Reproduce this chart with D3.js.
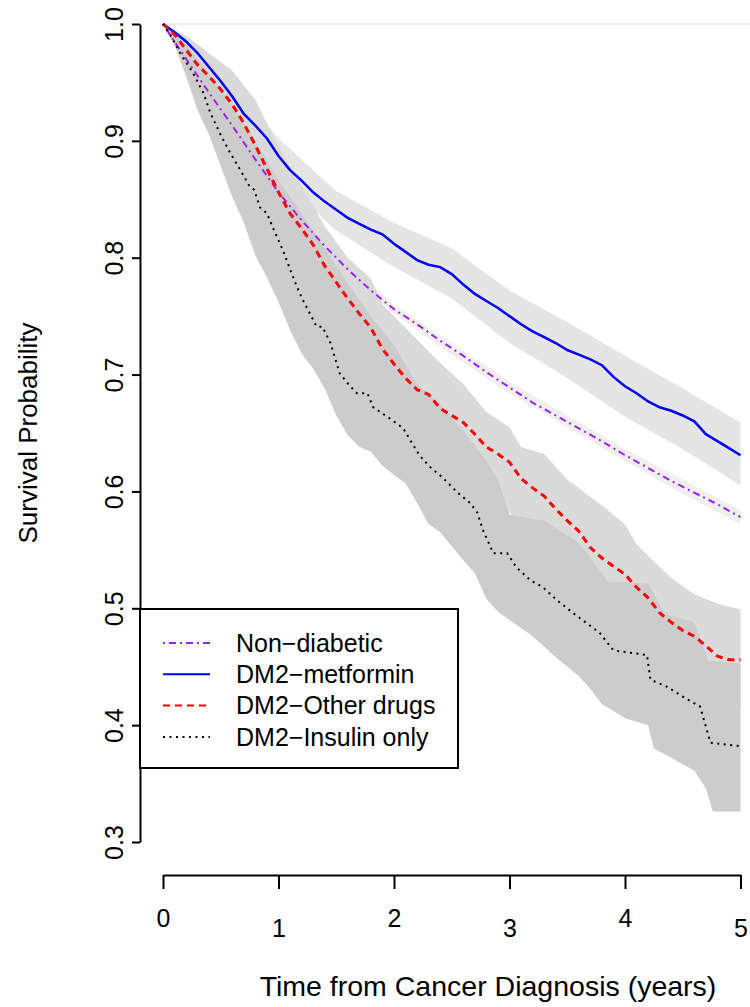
<!DOCTYPE html>
<html>
<head>
<meta charset="utf-8">
<script src="https://cdn.jsdelivr.net/npm/d3@7"></script>
<style>
  body { margin: 0; background: #fff; }
  svg { display: block; font-family: "Liberation Sans", Arial, Helvetica, sans-serif; }
</style>
</head>
<body>
<div id="chart"></div>
<script>
// ---- values ----
const groups = ["Non\u2212diabetic", "DM2\u2212metformin", "DM2\u2212Other drugs", "DM2\u2212Insulin only"];
const xTicks = [0, 1, 2, 3, 4, 5];
const yTicks = [0.3, 0.4, 0.5, 0.6, 0.7, 0.8, 0.9, 1.0];

// time grids (years)
const grid10 = [0, 0.1, 0.2, 0.3, 0.4, 0.5, 0.6, 0.7, 0.8, 0.9, 1, 1.1, 1.2, 1.3, 1.4, 1.5, 1.6, 1.7, 1.8, 1.9,
  2, 2.1, 2.2, 2.3, 2.4, 2.5, 2.6, 2.7, 2.8, 2.9, 3, 3.1, 3.2, 3.3, 3.4, 3.5, 3.6, 3.7, 3.8, 3.9,
  4, 4.1, 4.2, 4.3, 4.4, 4.5, 4.6, 4.7, 4.8, 4.9, 5];
const grid20 = [0, 0.2, 0.4, 0.6, 0.8, 1, 1.2, 1.4, 1.6, 1.8, 2, 2.2, 2.4, 2.6, 2.8, 3, 3.2, 3.4, 3.6, 3.8,
  4, 4.2, 4.4, 4.6, 4.8, 5];
const grid50 = [0, 0.5, 1, 1.5, 2, 2.5, 3, 3.5, 4, 4.5, 5];

// Non-diabetic
const nonDiabSurv = [1, 0.970, 0.941, 0.913, 0.884, 0.856, 0.832, 0.810, 0.790, 0.772, 0.756, 0.743, 0.729,
  0.716, 0.702, 0.689, 0.676, 0.665, 0.654, 0.643, 0.631, 0.620, 0.609, 0.599, 0.589, 0.578];
const nonDiabLower = [1, 0.924, 0.852, 0.796, 0.752, 0.717, 0.684, 0.655, 0.626, 0.598, 0.572];
const nonDiabUpper = [1, 0.930, 0.860, 0.804, 0.760, 0.727, 0.694, 0.665, 0.636, 0.610, 0.584];

// DM2 - metformin
const metforminSurv = [1, 0.993, 0.985, 0.975, 0.963, 0.951, 0.938, 0.923, 0.913, 0.902, 0.887, 0.875, 0.866,
  0.856, 0.848, 0.841, 0.834, 0.829, 0.824, 0.820, 0.812, 0.805, 0.798, 0.794, 0.792, 0.786, 0.777, 0.769,
  0.763, 0.757, 0.750, 0.743, 0.737, 0.732, 0.727, 0.721, 0.717, 0.713, 0.708, 0.698, 0.690, 0.684, 0.677,
  0.672, 0.669, 0.665, 0.660, 0.649, 0.643, 0.637, 0.631];
const metforminLower = [1, 0.938, 0.870, 0.823, 0.792, 0.765, 0.727, 0.697, 0.664, 0.636, 0.605];
const metforminUpper = [1, 0.962, 0.902, 0.857, 0.830, 0.808, 0.772, 0.745, 0.716, 0.688, 0.659];

// DM2 - other drugs
const otherSurv = [1, 0.991, 0.978, 0.965, 0.955, 0.944, 0.931, 0.915, 0.896, 0.876, 0.856, 0.838, 0.825,
  0.811, 0.793, 0.779, 0.765, 0.752, 0.740, 0.722, 0.709, 0.697, 0.687, 0.683, 0.671, 0.665, 0.659, 0.649,
  0.638, 0.632, 0.625, 0.611, 0.603, 0.596, 0.585, 0.575, 0.566, 0.552, 0.543, 0.536, 0.529, 0.518, 0.509,
  0.496, 0.488, 0.481, 0.476, 0.468, 0.459, 0.456, 0.456];
const otherBandTime = [0, 0.2, 0.4, 0.6, 0.8, 1.0, 1.2, 1.4, 1.6, 1.8, 1.9, 2.0, 2.2, 2.4, 2.6, 2.8, 3.0, 3.1,
  3.3, 3.5, 3.6, 3.8, 4.0, 4.1, 4.2, 4.4, 4.6, 4.8, 5.0];
const otherUpper = [1, 0.99, 0.975, 0.96, 0.935, 0.895, 0.862, 0.827, 0.800, 0.782, 0.760, 0.750, 0.730, 0.710,
  0.692, 0.668, 0.655, 0.638, 0.632, 0.610, 0.603, 0.588, 0.572, 0.555, 0.545, 0.526, 0.512, 0.504, 0.499];
const otherLower = [1, 0.962, 0.935, 0.905, 0.862, 0.815, 0.788, 0.762, 0.730, 0.700, 0.685, 0.665, 0.648, 0.635,
  0.620, 0.598, 0.582, 0.572, 0.555, 0.540, 0.525, 0.503, 0.488, 0.478, 0.468, 0.448, 0.437, 0.420, 0.414];

// DM2 - insulin only
const insulinTime = [0, 0.08, 0.15, 0.26, 0.35, 0.41, 0.49, 0.58, 0.67, 0.75, 0.79, 0.84, 0.9, 0.95, 1.04, 1.1,
  1.16, 1.21, 1.33, 1.38, 1.45, 1.53, 1.62, 1.68, 1.77, 1.82, 1.97, 2.08, 2.14, 2.22, 2.31, 2.42, 2.55, 2.66,
  2.72, 2.77, 2.86, 2.98, 3.06, 3.18, 3.29, 3.41, 3.55, 3.78, 3.9, 4.19, 4.22, 4.36, 4.54, 4.65, 4.74, 5.0];
const insulinSurv = [1, 0.988, 0.975, 0.958, 0.941, 0.924, 0.907, 0.890, 0.875, 0.861, 0.858, 0.843, 0.838,
  0.826, 0.806, 0.790, 0.775, 0.764, 0.741, 0.741, 0.727, 0.701, 0.690, 0.684, 0.684, 0.672, 0.662, 0.654,
  0.644, 0.631, 0.621, 0.612, 0.599, 0.590, 0.582, 0.567, 0.547, 0.547, 0.535, 0.524, 0.518, 0.507, 0.496,
  0.479, 0.464, 0.460, 0.439, 0.433, 0.422, 0.416, 0.385, 0.382];
const insulinLowerTime = [0, 0.1, 0.2, 0.3, 0.4, 0.5, 0.6, 0.7, 0.8, 0.9, 1.0, 1.1, 1.2, 1.3, 1.4, 1.5, 1.6, 1.7,
  1.8, 1.9, 2.0, 2.1, 2.2, 2.3, 2.4, 2.5, 2.6, 2.7, 2.8, 2.9, 3.0, 3.2, 3.4, 3.6, 3.7, 3.8, 4.0, 4.2, 4.25, 4.4,
  4.6, 4.7, 4.76, 5.0];
const insulinLower = [1, 0.982, 0.955, 0.926, 0.905, 0.878, 0.852, 0.830, 0.802, 0.783, 0.762, 0.738, 0.718, 0.705,
  0.688, 0.665, 0.648, 0.638, 0.634, 0.622, 0.614, 0.607, 0.590, 0.572, 0.565, 0.553, 0.541, 0.530, 0.508, 0.497,
  0.490, 0.476, 0.458, 0.442, 0.431, 0.418, 0.406, 0.400, 0.380, 0.372, 0.361, 0.346, 0.326, 0.326];
const insulinUpperTime = [0, 0.2, 0.4, 0.6, 0.8, 1.0, 1.2, 1.4, 1.6, 1.8, 2.0, 2.2, 2.4, 2.6, 2.8, 2.9, 3.0, 3.3,
  3.6, 3.8, 3.85, 4.2, 4.35, 4.6, 4.72, 5.0];
const insulinUpper = [1, 0.982, 0.958, 0.930, 0.900, 0.866, 0.838, 0.808, 0.778, 0.750, 0.725, 0.692, 0.674, 0.652,
  0.626, 0.610, 0.580, 0.575, 0.556, 0.530, 0.523, 0.521, 0.495, 0.488, 0.455, 0.453];

const zip = (ts, vs) => ts.map((t, i) => ({ t: t, v: vs[i] }));

const series = [
  { name: groups[0], line: zip(grid20, nonDiabSurv), upper: zip(grid50, nonDiabUpper), lower: zip(grid50, nonDiabLower),
    color: "#A020F0", dash: "2,4,7,4", width: 2, band: "#efefef" },
  { name: groups[1], line: zip(grid10, metforminSurv), upper: zip(grid50, metforminUpper), lower: zip(grid50, metforminLower),
    color: "#0000FF", dash: null, width: 2.5, band: "#e5e5e5" },
  { name: groups[2], line: zip(grid10, otherSurv), upper: zip(otherBandTime, otherUpper), lower: zip(otherBandTime, otherLower),
    color: "#FF0000", dash: "7,5", width: 3, band: "#dadada" },
  { name: groups[3], line: zip(insulinTime, insulinSurv), upper: zip(insulinUpperTime, insulinUpper), lower: zip(insulinLowerTime, insulinLower),
    color: "#000000", dash: "2,4.5", width: 2, band: "#cccccc" }
];

// ---- layout ----
const W = 750, H = 1007;
const svg = d3.select("#chart").append("svg")
  .attr("width", W)
  .attr("height", H);

svg.append("rect").attr("width", W).attr("height", H).attr("fill", "#fff");

const x = d3.scaleLinear().domain([0, 5]).range([163, 740.5]);
const y = d3.scaleLinear().domain([0.3, 1.0]).range([842, 24]);
const axisX = 140, axisY = 875;

// light reference line at 1.0
svg.append("line")
  .attr("x1", x(0)).attr("x2", W)
  .attr("y1", y(1)).attr("y2", y(1))
  .attr("stroke", "#dcdcdc")
  .attr("stroke-width", 1);

// confidence bands (opaque, drawn in legend order)
const edge = d3.line().x(d => x(d.t)).y(d => y(d.v));
svg.append("g").selectAll("path")
  .data(series)
  .join("path")
  .attr("d", d => edge(d.upper.concat(d.lower.slice().reverse())) + "Z")
  .attr("fill", d => d.band)
  .attr("stroke", "none");

// survival curves
svg.append("g").selectAll("path")
  .data(series)
  .join("path")
  .attr("d", d => edge(d.line))
  .attr("fill", "none")
  .attr("stroke", d => d.color)
  .attr("stroke-width", d => d.width)
  .attr("stroke-dasharray", d => d.dash);

// y axis (R style, rotated labels)
const gy = svg.append("g")
  .attr("transform", `translate(${axisX},0)`)
  .call(d3.axisLeft(y).tickValues(yTicks).tickSize(8).tickSizeOuter(0).tickFormat(d3.format(".1f")));
gy.select(".domain").attr("stroke-width", 2);
gy.selectAll(".tick line").attr("stroke-width", 2);
gy.selectAll(".tick text")
  .attr("x", null).attr("dy", null)
  .attr("transform", "translate(-17,0) rotate(-90)")
  .attr("text-anchor", "middle")
  .attr("font-size", 25)
  .attr("font-family", "Liberation Sans, Arial, sans-serif")
  .attr("fill", "#000");

// x axis (staggered labels)
const gx = svg.append("g")
  .attr("transform", `translate(0,${axisY})`)
  .call(d3.axisBottom(x).tickValues(xTicks).tickSize(14).tickSizeOuter(0).tickFormat(d3.format("d")));
gx.select(".domain").attr("stroke-width", 2);
gx.selectAll(".tick line").attr("stroke-width", 2);
gx.selectAll(".tick text")
  .attr("dy", null)
  .attr("y", (d, i) => i % 2 ? 62 : 52)
  .attr("font-size", 25)
  .attr("font-family", "Liberation Sans, Arial, sans-serif")
  .attr("fill", "#000");

// axis titles
svg.append("text")
  .attr("transform", "translate(37,433) rotate(-90)")
  .attr("text-anchor", "middle")
  .attr("font-size", 26)
  .text("Survival Probability");

svg.append("text")
  .attr("x", 488).attr("y", 996)
  .attr("text-anchor", "middle")
  .attr("font-size", 28.5)
  .text("Time from Cancer Diagnosis (years)");

// legend
const legend = svg.append("g");
legend.append("rect")
  .attr("x", 140).attr("y", 609)
  .attr("width", 318).attr("height", 159)
  .attr("fill", "#fff")
  .attr("stroke", "#000")
  .attr("stroke-width", 2);

const rows = legend.selectAll("g.row")
  .data(series)
  .join("g")
  .attr("class", "row")
  .attr("transform", (d, i) => `translate(0,${643 + i * 31.3})`);

rows.append("line")
  .attr("x1", 163).attr("x2", 210)
  .attr("stroke", d => d.color)
  .attr("stroke-width", d => Math.min(d.width, 2))
  .attr("stroke-dasharray", d => d.dash);

rows.append("text")
  .attr("x", 236)
  .attr("dy", "0.35em")
  .attr("font-size", 25)
  .text(d => d.name);
</script>
</body>
</html>
